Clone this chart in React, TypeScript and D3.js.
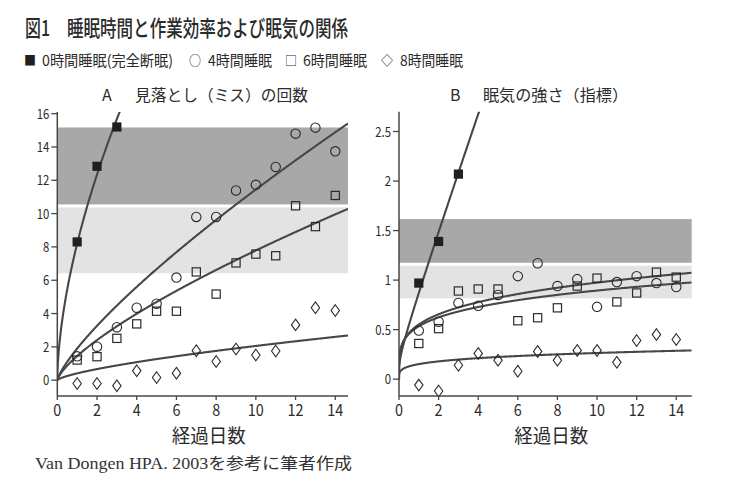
import React from 'react';
import * as d3 from 'd3';

// ---------- data ----------
const days = [1, 2, 3, 4, 5, 6, 7, 8, 9, 10, 11, 12, 13, 14];
const zeroDays = [1, 2, 3];

// Panel A: 見落とし(ミス)の回数
const aZero = [8.3, 12.84, 15.2];
const aFour = [1.43, 2.01, 3.18, 4.35, 4.59, 6.16, 9.8, 9.8, 11.39, 11.73, 12.8, 14.8, 15.16, 13.74];
const aSix = [1.21, 1.41, 2.51, 3.38, 4.14, 4.14, 6.5, 5.17, 7.04, 7.57, 7.47, 10.47, 9.22, 11.09];
const aEight = [-0.2, -0.2, -0.34, 0.56, 0.16, 0.42, 1.77, 1.12, 1.87, 1.51, 1.75, 3.32, 4.35, 4.18];
// fitted curves y = p * x^q + r * x   (order: 0h, 4h, 6h, 8h)
const aFitP = [8.2, 1.9, 1.45, 0.41];
const aFitQ = [0.59, 0.78, 0.73, 0.7];
const aFitR = [0, 0, 0, 0];
const aBandDark = [10.55, 15.17];
const aBandLight = [6.42, 10.37];
const aYTicks = [0, 2, 4, 6, 8, 10, 12, 14, 16];

// Panel B: 眠気の強さ(指標)
const bZero = [0.97, 1.39, 2.07];
const bFour = [0.49, 0.58, 0.77, 0.74, 0.85, 1.04, 1.17, 0.94, 1.01, 0.73, 0.98, 1.04, 0.97, 0.93];
const bSix = [0.36, 0.51, 0.89, 0.91, 0.91, 0.59, 0.62, 0.72, 0.94, 1.02, 0.78, 0.87, 1.08, 1.03];
const bEight = [-0.06, -0.12, 0.14, 0.26, 0.19, 0.08, 0.28, 0.19, 0.29, 0.29, 0.17, 0.39, 0.45, 0.4];
const bFitP = [0.3, 0.534, 0.552, 0.152];
const bFitQ = [0.2, 0.224, 0.247, 0.24];
const bFitR = [0.57, 0, 0, 0];
const bBandDark = [1.175, 1.616];
const bBandLight = [0.816, 1.145];
const bYTicks = [0, 0.5, 1, 1.5, 2, 2.5];
const bYTickLabels = ['0', '0.5', '1', '1.5', '2', '2.5'];

const xTicks = [0, 2, 4, 6, 8, 10, 12, 14];

const titleText = '睡眠時間と作業効率および眠気の関係';
const legendLabels = ['0時間睡眠(完全断眠)', '4時間睡眠', '6時間睡眠', '8時間睡眠'];
const legendSymbols = ['■', '○', '□', '◇'];

// ---------- styles ----------
const SANS = '"Noto Sans CJK JP", "Noto Sans", sans-serif';
const SERIF = '"Liberation Serif", "DejaVu Serif", "Noto Sans CJK JP", serif';
const INK = '#2b2b2b';
const LINE = '#474747';
const DARK = '#a8a8a8';
const LIGHT = '#e3e3e3';

type Marker = 'fsquare' | 'circle' | 'square' | 'diamond';

function MarkerShape({ kind, x, y }: { kind: Marker; x: number; y: number }) {
  if (kind === 'fsquare') {
    return <rect x={x - 4.6} y={y - 4.6} width={9.2} height={9.2} fill="#231f20" />;
  }
  if (kind === 'square') {
    return <rect x={x - 4.1} y={y - 4.1} width={8.2} height={8.2} fill="none" stroke={INK} strokeWidth={1.2} />;
  }
  if (kind === 'circle') {
    return <circle cx={x} cy={y} r={4.7} fill="none" stroke={INK} strokeWidth={1.1} />;
  }
  const w = 4.2, h = 5.8;
  return (
    <path
      d={`M${x},${y - h}L${x + w},${y}L${x},${y + h}L${x - w},${y}Z`}
      fill="none"
      stroke={INK}
      strokeWidth={1.1}
    />
  );
}

function digitWidth(s: string, dw: number) {
  let w = 0;
  for (const c of s) w += c === '.' ? dw * 0.5 : dw;
  return w;
}

interface PanelProps {
  id: string;
  letter: string;
  title: string;
  titleX: number;
  titleLen: number;
  xRange: [number, number];
  yRange: [number, number];
  xMax: number;
  yDomain: [number, number];
  yTicks: number[];
  yTickLabels: string[];
  bandDark: number[];
  bandLight: number[];
  zero: number[];
  four: number[];
  six: number[];
  eight: number[];
  fitP: number[];
  fitQ: number[];
  fitR: number[];
}

function Panel(p: PanelProps) {
  const x = d3.scaleLinear().domain([0, p.xMax]).range(p.xRange);
  const y = d3.scaleLinear().domain(p.yDomain).range(p.yRange);
  const [x0, x1] = p.xRange;
  const [yb, yt] = p.yRange;

  const samples = d3.range(0, 601).map((i) => Math.pow(i / 600, 2) * p.xMax);
  const line = d3
    .line<[number, number]>()
    .x((d) => x(d[0]))
    .y((d) => y(d[1]));

  const curves = p.fitP.map(
    (pp, i) =>
      line(samples.map((s) => [s, pp * Math.pow(s, p.fitQ[i]) + p.fitR[i] * s] as [number, number])) as string
  );

  const clipId = `clip-${p.id}`;
  const cx = (x0 + x1) / 2;

  return (
    <g>
      <defs>
        <clipPath id={clipId}>
          <rect x={x0} y={yt} width={x1 - x0} height={yb - yt} />
        </clipPath>
      </defs>
      {/* bands */}
      <rect x={x0} y={y(p.bandDark[1])} width={x1 - x0} height={y(p.bandDark[0]) - y(p.bandDark[1])} fill={DARK} />
      <rect x={x0} y={y(p.bandLight[1])} width={x1 - x0} height={y(p.bandLight[0]) - y(p.bandLight[1])} fill={LIGHT} />

      {/* curves */}
      <g clipPath={`url(#${clipId})`}>
        {curves.map((d, i) => (
          <path key={i} d={d} fill="none" stroke={LINE} strokeWidth={2.1} />
        ))}
      </g>

      {/* markers */}
      {p.eight.map((v, i) => (
        <MarkerShape key={`e${i}`} kind="diamond" x={x(days[i])} y={y(v)} />
      ))}
      {p.six.map((v, i) => (
        <MarkerShape key={`s${i}`} kind="square" x={x(days[i])} y={y(v)} />
      ))}
      {p.four.map((v, i) => (
        <MarkerShape key={`f${i}`} kind="circle" x={x(days[i])} y={y(v)} />
      ))}
      {p.zero.map((v, i) => (
        <MarkerShape key={`z${i}`} kind="fsquare" x={x(zeroDays[i])} y={y(v)} />
      ))}

      {/* axes */}
      <line x1={x0} x2={x0} y1={yt} y2={yb} stroke={LINE} strokeWidth={1.5} />
      <line x1={x0} x2={x1} y1={yb} y2={yb} stroke={LINE} strokeWidth={1.5} />
      {p.yTicks.map((t, i) => (
        <g key={`yt${i}`}>
          <line x1={x0 - 6} x2={x0} y1={y(t)} y2={y(t)} stroke={LINE} strokeWidth={1.3} />
          <text
            x={x0 - 8}
            y={y(t) + 5}
            textAnchor="end"
            fontFamily={SANS}
            fontSize={14}
            fill={INK}
            textLength={digitWidth(p.yTickLabels[i], 6.3)}
            lengthAdjust="spacingAndGlyphs"
          >
            {p.yTickLabels[i]}
          </text>
        </g>
      ))}
      {xTicks.map((t) => (
        <g key={`xt${t}`}>
          <line x1={x(t)} x2={x(t)} y1={yb} y2={yb + 4} stroke={LINE} strokeWidth={1.3} />
          <text
            x={x(t)}
            y={yb + 20}
            textAnchor="middle"
            fontFamily={SANS}
            fontSize={16}
            fill={INK}
            textLength={digitWidth(String(t), 8)}
            lengthAdjust="spacingAndGlyphs"
          >
            {t}
          </text>
        </g>
      ))}
      <text x={cx + 6} y={443} textAnchor="middle" fontFamily={SANS} fontSize={19} fill={INK} textLength={74} lengthAdjust="spacingAndGlyphs">
        経過日数
      </text>

      {/* panel title */}
      <text x={p.titleX - 33} y={101} fontFamily={SANS} fontSize={16} fill={INK}>
        {p.letter}
      </text>
      <text x={p.titleX} y={101} fontFamily={SANS} fontSize={16} fill={INK} textLength={p.titleLen} lengthAdjust="spacingAndGlyphs">
        {p.title}
      </text>
    </g>
  );
}

export default function App() {
  const legendX = [24, 189, 285, 381];
  const legendTextX = [42, 208, 303, 400];
  const legendLen = [131, 64, 64, 63];
  return (
    <svg
      width={744}
      height={490}
      viewBox="0 0 744 490"
      style={{ position: 'absolute', left: 0, top: 0, background: '#fff' }}
    >
      <rect x={0} y={0} width={744} height={490} fill="#fff" />
      {/* title */}
      <text x={25} y={36} fontFamily={SANS} fontSize={22} fontWeight={500} fill={INK} textLength={25} lengthAdjust="spacingAndGlyphs">
        図1
      </text>
      <text x={67} y={36} fontFamily={SANS} fontSize={22} fontWeight={500} fill={INK} textLength={281} lengthAdjust="spacingAndGlyphs">
        {titleText}
      </text>
      {/* legend */}
      {legendLabels.map((l, i) => (
        <g key={l}>
          <text
            x={legendX[i]}
            y={65}
            fontFamily={SANS}
            fontSize={13}
            fill={i === 0 ? '#231f20' : INK}
            textLength={12}
            lengthAdjust="spacingAndGlyphs"
          >
            {legendSymbols[i]}
          </text>
          <text
            x={legendTextX[i]}
            y={66}
            fontFamily={SANS}
            fontSize={15}
            fill={INK}
            textLength={legendLen[i]}
            lengthAdjust="spacingAndGlyphs"
          >
            {l}
          </text>
        </g>
      ))}

      <Panel
        id="a"
        letter="A"
        title="見落とし（ミス）の回数"
        titleX={135}
        titleLen={173}
        xRange={[57.3, 348]}
        yRange={[396, 112]}
        xMax={14.64}
        yDomain={[-0.95, 16.1]}
        yTicks={aYTicks}
        yTickLabels={aYTicks.map(String)}
        bandDark={aBandDark}
        bandLight={aBandLight}
        zero={aZero}
        four={aFour}
        six={aSix}
        eight={aEight}
        fitP={aFitP}
        fitQ={aFitQ}
        fitR={aFitR}
      />
      <Panel
        id="b"
        letter="B"
        title="眠気の強さ（指標）"
        titleX={483}
        titleLen={145}
        xRange={[399, 691.7]}
        yRange={[396, 111.7]}
        xMax={14.78}
        yDomain={[-0.17, 2.7]}
        yTicks={bYTicks}
        yTickLabels={bYTickLabels}
        bandDark={bBandDark}
        bandLight={bBandLight}
        zero={bZero}
        four={bFour}
        six={bSix}
        eight={bEight}
        fitP={bFitP}
        fitQ={bFitQ}
        fitR={bFitR}
      />

      {/* source */}
      <text x={35} y={469} fontFamily={SERIF} fontSize={16} fill="#333" textLength={317} lengthAdjust="spacingAndGlyphs">
        Van Dongen HPA. 2003を参考に筆者作成
      </text>
    </svg>
  );
}
